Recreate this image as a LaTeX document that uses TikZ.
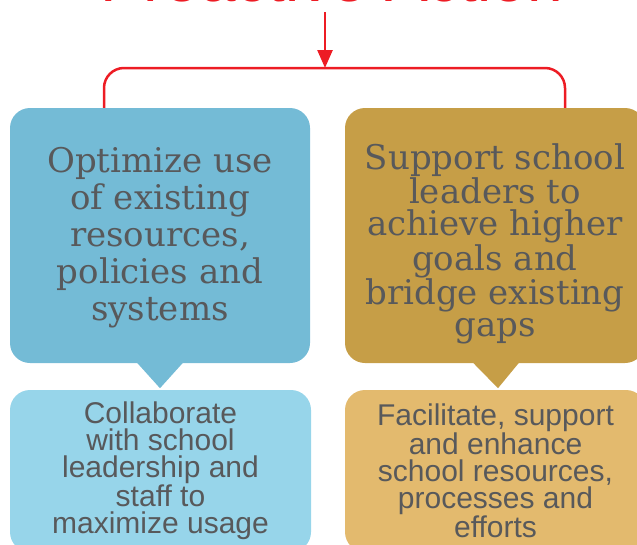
\documentclass[tikz,border=0pt]{standalone}
\usepackage{fontspec}
\usetikzlibrary{arrows.meta,calc}
\newfontfamily\boxserif{DejaVu Serif}
\newfontfamily\boxsans{Liberation Sans}
\definecolor{titlered}{HTML}{ED1C24}
\definecolor{txtgray}{HTML}{58595B}
\definecolor{blueA}{HTML}{74BBD6}
\definecolor{blueB}{HTML}{97D5EA}
\definecolor{goldA}{HTML}{C69E47}
\definecolor{goldB}{HTML}{E3BA6E}
\tikzset{
  topbox/.style={rounded corners=20pt, minimum width=300pt, minimum height=255pt,
    inner sep=0pt},
  toptext/.style={inner sep=0pt, align=center, text=txtgray},
  botbox/.style={rounded corners=20pt, minimum width=301pt, minimum height=162pt,
    inner sep=0pt, align=center, text=txtgray,
    font=\boxsans\fontsize{30}{27}\selectfont},
  redline/.style={draw=titlered, line width=2.5pt}
}
\begin{document}
\begin{tikzpicture}[x=1pt,y=-1pt]
\useasboundingbox (0,0) rectangle (637,544);
\clip (0,0) rectangle (637,544);
% title (cut by the top edge)
\node[anchor=base, text=titlered, inner sep=0pt,
  font=\boxsans\fontsize{64}{64}\selectfont] (title) at (332,1) {Proactive Action};
% top boxes
\node[topbox, fill=blueA] (ltop) at (160,235.5) {};
\node[topbox, fill=goldA] (rtop) at (495,235.5) {};
\node[toptext, font=\boxserif\fontsize{34}{37}\selectfont] (ltoptext) at (160,238)
  {Optimize use\\of existing\\resources,\\policies and\\systems};
\node[toptext, font=\boxserif\fontsize{34}{32}\selectfont] (rtoptext) at (495,244)
  {Support school\\leaders to\\achieve higher\\goals and\\bridge existing\\gaps};
% pointers
\fill[blueA] ($(ltop.south)+(-23,-0.5)$) -- ($(ltop.south)+(23,-0.5)$) -- ($(ltop.south)+(0,25)$) -- cycle;
\fill[goldA] ($(rtop.south)+(-22,-0.5)$) -- ($(rtop.south)+(24,-0.5)$) -- ($(rtop.south)+(3,25)$) -- cycle;
% bottom boxes
\node[botbox, fill=blueB] (lbot) at (160.5,471)
  {Collaborate\\with school\\leadership and\\staff to\\maximize usage};
\node[botbox, fill=goldB] (rbot) at (495.5,471)
  {Facilitate, support\\and enhance\\school resources,\\processes and\\efforts};
% connectors
\coordinate (start) at (325,12);
\coordinate (join) at (325,68);
\coordinate (lftx) at (104,0);
\coordinate (rgtx) at (565,0);
\draw[redline, -{Triangle[length=18pt,width=15pt]}] (start) -- (join);
\draw[redline, rounded corners=20pt] (ltop.north -| lftx) |- (join) -| (rtop.north -| rgtx);
\end{tikzpicture}
\end{document}
